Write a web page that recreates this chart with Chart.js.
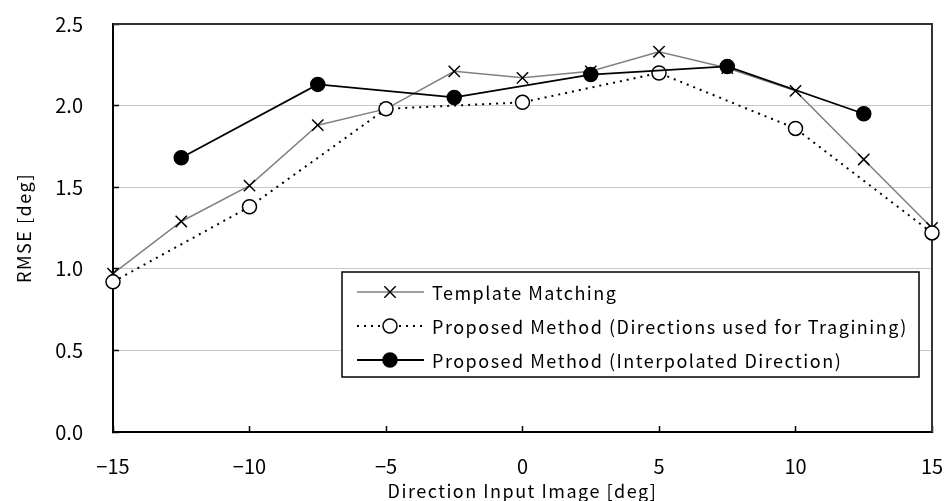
<!DOCTYPE html>
<html>
<head>
<meta charset="utf-8">
<script src="https://cdn.jsdelivr.net/npm/chart.js@4.4.1/dist/chart.umd.min.js"></script>
<style>
  html, body { margin: 0; padding: 0; background: #fff; }
  #wrap { width: 944px; height: 501px; }
</style>
</head>
<body>
<div id="wrap"><canvas id="rmseChart" width="944" height="501"></canvas></div>
<script>
// data
var dirAll = [-15, -12.5, -10, -7.5, -5, -2.5, 0, 2.5, 5, 7.5, 10, 12.5, 15];
var templateRmse = [0.97, 1.29, 1.51, 1.88, 1.98, 2.21, 2.17, 2.21, 2.33, 2.23, 2.09, 1.67, 1.25];

var dirTrain = [-15, -10, -5, 0, 5, 10, 15];
var trainRmse = [0.92, 1.38, 1.98, 2.02, 2.20, 1.86, 1.22];

var dirInterp = [-12.5, -7.5, -2.5, 2.5, 7.5, 12.5];
var interpRmse = [1.68, 2.13, 2.05, 2.19, 2.24, 1.95];

var seriesNames = [
  "Template Matching",
  "Proposed Method (Directions used for Tragining)",
  "Proposed Method (Interpolated Direction)"
];
var yTicks = [0, 0.5, 1.0, 1.5, 2.0, 2.5];
var xTicks = [-15, -10, -5, 0, 5, 10, 15];

var FONT = "'Noto Sans CJK JP', 'Noto Sans', sans-serif";

function toPoints(xs, ys) {
  var out = [];
  for (var i = 0; i < xs.length; i++) out.push({ x: xs[i], y: ys[i] });
  return out;
}

// the original font is wider, so space the title letters out a bit;
// tick labels (drawn after the datasets, z=1) go back to normal spacing
var spacing = {
  id: 'spacing',
  beforeDraw: function(chart) {
    chart.ctx.letterSpacing = '1.5px';
  },
  afterDatasetsDraw: function(chart) {
    chart.ctx.letterSpacing = '0px';
  }
};

// frame (top + right) drawn under the datasets
var framePlugin = {
  id: 'frame',
  beforeDatasetsDraw: function(chart) {
    var a = chart.chartArea, c = chart.ctx;
    c.save();
    c.strokeStyle = '#333';
    c.lineWidth = 2;
    c.beginPath();
    c.moveTo(a.left, a.top);
    c.lineTo(a.right, a.top);
    c.lineTo(a.right, a.bottom);
    c.stroke();
    c.restore();
  }
};

// legend with line + marker samples, boxed
var boxLegend = {
  id: 'boxLegend',
  afterDraw: function(chart) {
    var c = chart.ctx;
    var bx = 342, by = 272, bw = 577, bh = 105;
    c.save();
    c.fillStyle = '#fff';
    c.fillRect(bx, by, bw, bh);
    c.strokeStyle = '#000';
    c.lineWidth = 1.5;
    c.strokeRect(bx, by, bw, bh);
    var rows = [292, 326, 360];
    chart.data.datasets.forEach(function(ds, i) {
      var y = rows[i];
      c.save();
      c.strokeStyle = ds.borderColor;
      c.lineWidth = ds.borderWidth;
      c.setLineDash(ds.borderDash || []);
      c.beginPath();
      c.moveTo(357, y);
      c.lineTo(424, y);
      c.stroke();
      c.restore();
      c.save();
      c.fillStyle = ds.pointBackgroundColor;
      c.strokeStyle = ds.pointBorderColor;
      c.lineWidth = ds.pointBorderWidth;
      c.beginPath();
      if (ds.pointStyle === 'circle') {
        c.arc(390, y, ds.pointRadius, 0, Math.PI * 2);
        c.fill();
        c.stroke();
      } else {
        var d = ds.pointRadius * Math.SQRT1_2;
        c.moveTo(390 - d, y - d); c.lineTo(390 + d, y + d);
        c.moveTo(390 - d, y + d); c.lineTo(390 + d, y - d);
        c.stroke();
      }
      c.restore();
      c.fillStyle = '#000';
      c.font = '18px ' + FONT;
      c.letterSpacing = '1.5px';
      c.textBaseline = 'middle';
      c.textAlign = 'left';
      c.fillText(ds.label, 432, y + 1);
    });
    c.restore();
  }
};

var ctx = document.getElementById('rmseChart').getContext('2d');
var rmseChart = new Chart(ctx, {
  type: 'line',
  data: {
    datasets: [
      {
        label: seriesNames[0],
        data: toPoints(dirAll, templateRmse),
        borderColor: '#808080',
        borderWidth: 1.5,
        pointStyle: 'crossRot',
        pointRadius: 8,
        pointHoverRadius: 8,
        pointBorderColor: '#000',
        pointBackgroundColor: '#000',
        pointBorderWidth: 1.5,
        tension: 0,
        order: 3
      },
      {
        label: seriesNames[1],
        data: toPoints(dirTrain, trainRmse),
        borderColor: '#000',
        borderWidth: 2,
        borderDash: [2, 5],
        pointStyle: 'circle',
        pointRadius: 7,
        pointHoverRadius: 7,
        pointBorderColor: '#000',
        pointBackgroundColor: '#fff',
        pointBorderWidth: 1.5,
        tension: 0,
        order: 2
      },
      {
        label: seriesNames[2],
        data: toPoints(dirInterp, interpRmse),
        borderColor: '#000',
        borderWidth: 1.8,
        pointStyle: 'circle',
        pointRadius: 7,
        pointHoverRadius: 7,
        pointBorderColor: '#000',
        pointBackgroundColor: '#000',
        pointBorderWidth: 1.5,
        tension: 0,
        order: 1
      }
    ]
  },
  options: {
    responsive: false,
    animation: false,
    events: [],
    clip: false,
    layout: { padding: { top: 24, right: 12, left: 0, bottom: 0 } },
    plugins: {
      legend: { display: false },
      tooltip: { enabled: false }
    },
    scales: {
      x: {
        type: 'linear',
        min: -15,
        max: 15,
        afterFit: function(s) {
          s.height = 69;
          s.paddingLeft = 0;
          s.paddingRight = 0;
        },
        afterBuildTicks: function(s) {
          s.ticks = xTicks.map(function(v) { return { value: v }; });
        },
        border: { color: '#000', width: 2 },
        grid: {
          drawOnChartArea: false,
          tickLength: -6,
          tickColor: '#000',
          tickWidth: 1.5
        },
        ticks: {
          z: 1,
          padding: 28,
          color: '#000',
          font: { family: FONT, size: 20 },
          maxRotation: 0,
          callback: function(v) { return String(v).replace('-', '\u2212'); }
        },
        title: {
          display: true,
          text: 'Direction Input Image [deg]',
          color: '#000',
          font: { family: FONT, size: 18, lineHeight: 1 },
          padding: { top: 0, bottom: 1 }
        }
      },
      y: {
        min: 0,
        max: 2.5,
        afterFit: function(s) {
          s.width = 113;
          s.paddingTop = 0;
          s.paddingBottom = 0;
        },
        afterBuildTicks: function(s) {
          s.ticks = yTicks.map(function(v) { return { value: v }; });
        },
        border: { color: '#000', width: 2 },
        grid: {
          color: function(c) {
            if (c.tick && (c.tick.value === 0 || c.tick.value === 2.5)) return 'rgba(0,0,0,0)';
            return '#c8c8c8';
          },
          lineWidth: 1,
          tickLength: -6,
          tickColor: '#000',
          tickWidth: 1.5
        },
        ticks: {
          z: 1,
          padding: 36,
          color: '#000',
          font: { family: FONT, size: 20 },
          callback: function(v) { return v.toFixed(1); }
        },
        title: {
          display: true,
          text: 'RMSE [deg]',
          color: '#000',
          font: { family: FONT, size: 18, lineHeight: 1.2 },
          padding: { top: 13, bottom: 0 }
        }
      }
    }
  },
  plugins: [spacing, framePlugin, boxLegend]
});
</script>
</body>
</html>
